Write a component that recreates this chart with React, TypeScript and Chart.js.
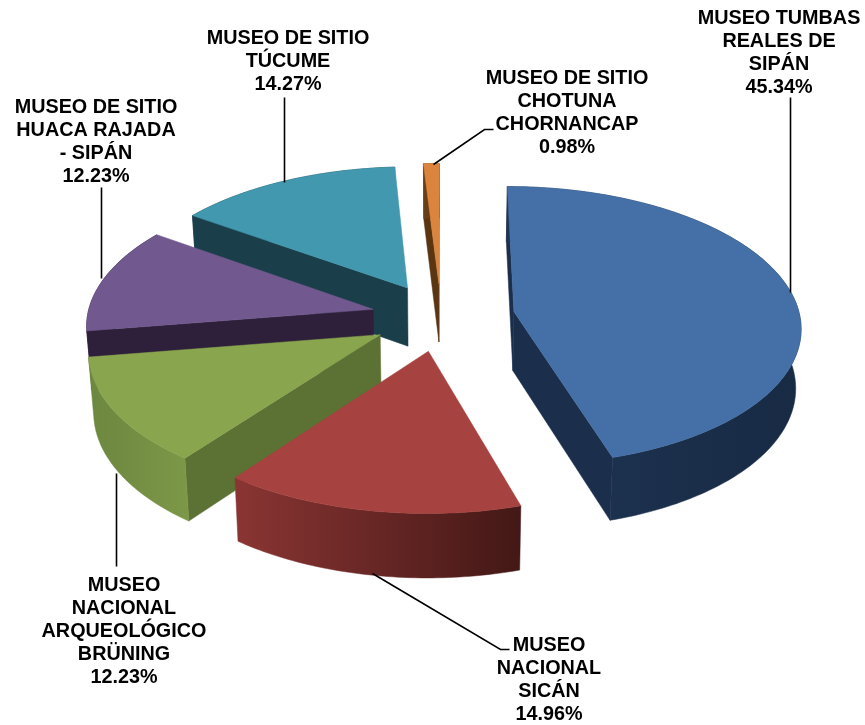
import React, { useEffect, useRef } from "react";
import { Chart, registerables } from "chart.js";

Chart.register(...registerables);

const categories = [
  ["MUSEO TUMBAS", "REALES DE", "SIPÁN"],
  ["MUSEO", "NACIONAL", "SICÁN"],
  ["MUSEO", "NACIONAL", "ARQUEOLÓGICO", "BRÜNING"],
  ["MUSEO DE SITIO", "HUACA RAJADA", "- SIPÁN"],
  ["MUSEO DE SITIO", "TÚCUME"],
  ["MUSEO DE SITIO", "CHOTUNA", "CHORNANCAP"],
];
const shares = [45.34, 14.96, 12.23, 12.23, 14.27, 0.98];
const explode = [74, 70, 70, 70, 70, 70];
const topColors = ["#4570A7", "#A6423F", "#89A54E", "#71588F", "#4198AF", "#DB843D"];
const wallLight = ["#1E3553", "#8A3533", "#6C873F", "#2E203A", "#1A3E4A", "#6B4018"];
const wallDark = ["#182A44", "#431816", "#7C9747", "#2E203A", "#1A3E4A", "#5A3512"];
const cutColors = ["#1B2F4C", "#4A1B19", "#5C7134", "#2E203A", "#1A3E4A", "#5A3512"];

// label block centre x, first baseline y, leader polyline
const labelPlace: [number, number][] = [
  [779, 24], [549, 651], [124, 591], [96, 113], [288, 44], [567, 84],
];
const leaders: [number, number][][] = [
  [[790, 292], [790, 97]],
  [[372, 573], [500, 649], [509, 649]],
  [[116, 473], [116, 566]],
  [[101, 278], [101, 187]],
  [[284, 182], [284, 97]],
  [[433, 164], [484, 129], [493, 129]],
];
const paintOrder = [4, 5, 3, 0, 2, 1];

const TILT = 0.485;
const PERSP = 0.1;
const DEPTH = 59;
const SHRINK = 0.985;

function project(cx: number, cy: number, R: number, u: number, v: number, z: number) {
  const w = 1 - (PERSP * v) / R;
  const s = z ? SHRINK : 1;
  return {
    x: cx + (u / w) * s,
    y: cy + ((v * TILT) / w) * s + (z * DEPTH) / w,
  };
}

const pie3d = {
  id: "pie3d",
  beforeDatasetDraw(chart: any) {
    const ctx = chart.ctx as CanvasRenderingContext2D;
    const arcs = chart.getDatasetMeta(0).data;
    for (const i of paintOrder) {
      const a = arcs[i];
      const R = a.outerRadius;
      const mid = (a.startAngle + a.endAngle) / 2;
      const off = a.options.offset;
      const ox = Math.cos(mid) * off;
      const oy = Math.sin(mid) * off;
      const pt = (ang: number | null, z: number) => {
        const u = ox + (ang === null ? 0 : Math.cos(ang) * R);
        const v = oy + (ang === null ? 0 : Math.sin(ang) * R);
        return project(a.x, a.y, R, u, v, z);
      };
      const steps = Math.max(4, Math.ceil(((a.endAngle - a.startAngle) * 180) / Math.PI));
      const angs: number[] = [];
      for (let k = 0; k <= steps; k++) angs.push(a.startAngle + ((a.endAngle - a.startAngle) * k) / steps);
      const poly = (pts: { x: number; y: number }[], fill: string | CanvasGradient) => {
        ctx.beginPath();
        pts.forEach((p, k) => (k ? ctx.lineTo(p.x, p.y) : ctx.moveTo(p.x, p.y)));
        ctx.closePath();
        ctx.fillStyle = fill;
        ctx.strokeStyle = fill;
        ctx.lineWidth = 0.5;
        ctx.fill();
        ctx.stroke();
      };
      const apex = pt(null, 0);
      const apexB = pt(null, 1);
      const s0 = pt(a.startAngle, 0);
      const e0 = pt(a.endAngle, 0);
      if (s0.x < apex.x) poly([apex, s0, pt(a.startAngle, 1), apexB], cutColors[i]);
      if (apex.x < e0.x) poly([e0, apex, apexB, pt(a.endAngle, 1)], cutColors[i]);
      const topPts = angs.map((g) => pt(g, 0));
      const botPts = angs.map((g) => pt(g, 1)).reverse();
      const xs = topPts.map((p) => p.x);
      const grad = ctx.createLinearGradient(Math.min(...xs), 0, Math.max(...xs), 0);
      grad.addColorStop(0, wallLight[i]);
      grad.addColorStop(1, wallDark[i]);
      poly([...topPts, ...botPts], grad);
      poly([apex, ...topPts], topColors[i]);
    }
    // leaders and labels
    ctx.strokeStyle = "#000";
    ctx.lineWidth = 1.6;
    leaders.forEach((line) => {
      ctx.beginPath();
      line.forEach(([x, y], k) => (k ? ctx.lineTo(x + 0.5, y + 0.5) : ctx.moveTo(x + 0.5, y + 0.5)));
      ctx.stroke();
    });
    ctx.fillStyle = "#000";
    ctx.font = "bold 19.8px 'Liberation Sans', Arial, sans-serif";
    ctx.textAlign = "center";
    ctx.textBaseline = "alphabetic";
    categories.forEach((lines, i) => {
      const [x, y] = labelPlace[i];
      [...lines, shares[i].toFixed(2) + "%"].forEach((t, k) => ctx.fillText(t, x, y + k * 23));
    });
    return false;
  },
};

export default function App() {
  const ref = useRef<HTMLCanvasElement>(null);
  useEffect(() => {
    document.body.style.margin = "0";
    document.body.style.background = "#fff";
    const chart = new Chart(ref.current!, {
      type: "pie",
      data: {
        labels: categories.map((c) => c.join(" ")),
        datasets: [{ data: shares, backgroundColor: topColors, offset: explode, borderWidth: 0, clip: false } as any],
      },
      options: {
        animation: false,
        responsive: false,
        rotation: 0,
        radius: 286,
        events: [],
        layout: { padding: { left: 17, bottom: 91 } },
        plugins: { legend: { display: false }, tooltip: { enabled: false } },
      },
      plugins: [pie3d],
    } as any);
    return () => chart.destroy();
  }, []);
  return <canvas ref={ref} width={865} height={725} style={{ display: "block" }} />;
}
